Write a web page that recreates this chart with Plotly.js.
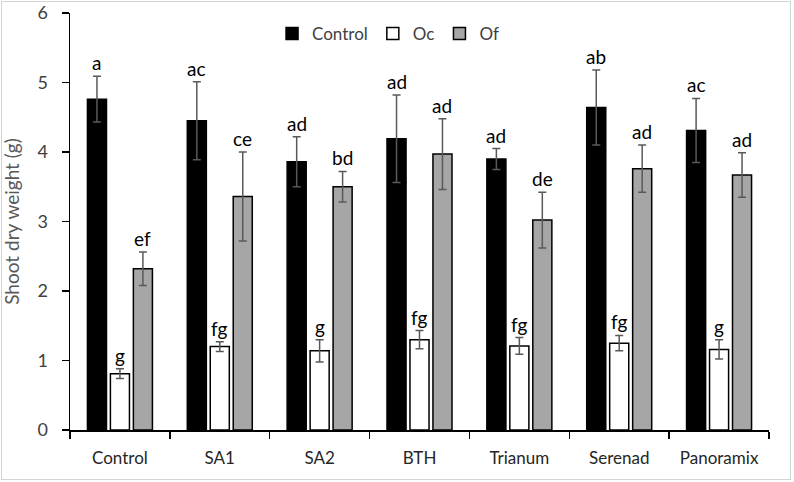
<!DOCTYPE html>
<html>
<head>
<meta charset="utf-8">
<script src="https://cdn.plot.ly/plotly-3.0.1.min.js"></script>
<style>
  html, body { margin: 0; padding: 0; background: #fff; }
  #wrap { position: relative; width: 794px; height: 482px; }
  #chart { width: 794px; height: 482px; }
  #frame { position: absolute; left: 1px; top: 1px; width: 788px; height: 477px; border: 1px solid #d4d4d4; pointer-events: none; }
</style>
</head>
<body>
<div id="wrap"><div id="chart"></div><div id="frame"></div></div>
<script>
const categories = ["Control", "SA1", "SA2", "BTH", "Trianum", "Serenad", "Panoramix"];

const controlValues = [4.76, 4.45, 3.86, 4.19, 3.90, 4.64, 4.31];
const controlErrors = [0.33, 0.56, 0.36, 0.63, 0.15, 0.54, 0.46];
const controlLetters = ["a", "ac", "ad", "ad", "ad", "ab", "ac"];

const ocValues = [0.81, 1.20, 1.14, 1.30, 1.21, 1.25, 1.16];
const ocErrors = [0.07, 0.07, 0.16, 0.13, 0.12, 0.11, 0.14];
const ocLetters = ["g", "fg", "g", "fg", "fg", "fg", "g"];

const ofValues = [2.32, 3.36, 3.50, 3.97, 3.02, 3.76, 3.67];
const ofErrors = [0.24, 0.64, 0.22, 0.51, 0.40, 0.34, 0.32];
const ofLetters = ["ef", "ce", "bd", "ad", "de", "ad", "ad"];

const seriesNames = ["Control", "Oc", "Of"];
const yTicks = [0, 1, 2, 3, 4, 5, 6];

const FONT = "Lato, 'Open Sans', sans-serif";
const fills = ["#000000", "#ffffff", "#a6a6a6"];
const allValues = [controlValues, ocValues, ofValues];
const allErrors = [controlErrors, ocErrors, ofErrors];
const allLetters = [controlLetters, ocLetters, ofLetters];

const bargap = 0.31;
const bargroupgap = 0.17;

const traces = seriesNames.map((name, j) => ({
  type: "bar",
  name: name,
  x: categories,
  y: allValues[j],
  marker: { color: fills[j], line: { color: "#000000", width: 1.5 } },
  error_y: { type: "data", array: allErrors[j], visible: true, color: "#595959", thickness: 1.5, width: 4 }
}));

const mL = 70, mR = 25, W = 794;
const plotW = W - mL - mR;
const catPx = plotW / categories.length;
const slotPx = catPx * (1 - bargap) / seriesNames.length;

const annotations = [];
seriesNames.forEach((name, j) => {
  categories.forEach((c, i) => {
    annotations.push({
      x: c, y: allValues[j][i] + allErrors[j][i], xref: "x", yref: "y",
      text: allLetters[j][i], showarrow: false,
      xanchor: "center", yanchor: "bottom",
      xshift: (j - 1) * slotPx, yshift: 0,
      font: { family: FONT, size: 19, color: "#000000" }
    });
  });
});

const layout = {
  width: 794, height: 482,
  margin: { l: mL, r: mR, t: 13, b: 52 },
  paper_bgcolor: "#ffffff", plot_bgcolor: "#ffffff",
  barmode: "group", bargap: bargap, bargroupgap: bargroupgap,
  showlegend: true,
  legend: {
    orientation: "h", x: 0.455, y: 0.95, xanchor: "center", yanchor: "middle",
    font: { family: FONT, size: 17, color: "#404040" },
    itemwidth: 30, tracegroupgap: 0, bgcolor: "rgba(0,0,0,0)", traceorder: "normal"
  },
  xaxis: {
    type: "category", range: [-0.5, 6.5],
    showline: true, linecolor: "#000000", linewidth: 1.5,
    ticks: "outside", tickson: "boundaries", ticklen: 7, tickcolor: "#000000", tickwidth: 1.5,
    showgrid: false, zeroline: false,
    ticklabelstandoff: 12,
    tickfont: { family: FONT, size: 17, color: "#262626" }
  },
  yaxis: {
    range: [0, 6], tickvals: yTicks, ticktext: yTicks.map(String),
    showline: true, linecolor: "#000000", linewidth: 1.5,
    ticks: "outside", ticklen: 7, tickcolor: "#000000", tickwidth: 1.5,
    showgrid: false, zeroline: false,
    ticklabelstandoff: 10,
    tickfont: { family: FONT, size: 18, color: "#404040" },
    title: { text: "Shoot dry weight (g)", font: { family: FONT, size: 19, color: "#595959" }, standoff: 16 }
  },
  annotations: annotations
};

Plotly.newPlot("chart", traces, layout, { displayModeBar: false, staticPlot: true });
</script>
</body>
</html>
